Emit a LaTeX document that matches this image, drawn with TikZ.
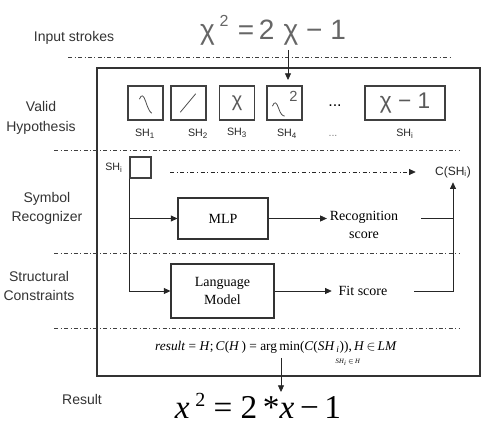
\documentclass[tikz,border=0pt]{standalone}
\usepackage{fontspec}
\setmainfont{Liberation Serif}
\setsansfont{Liberation Sans}
\usetikzlibrary{positioning,arrows.meta,calc}
\tikzset{
  lbl/.style={font=\sffamily\fontsize{10.5}{14.5}\selectfont,align=center,text=black!80},
  hyp/.style={rectangle,draw=black!75,thick,minimum width=26.25pt,minimum height=25.5pt,inner sep=0pt},
  shlbl/.style={font=\sffamily\fontsize{8}{9}\selectfont,text=black!85},
  blk/.style={rectangle,draw=black!80,thick,align=center,font=\fontsize{10.5}{13}\selectfont},
  txt/.style={align=center,font=\fontsize{10.5}{13}\selectfont,inner sep=2pt},
  sepline/.style={dash dot,black!75},
  hand/.style={black!70,line width=0.6pt,line cap=round},
  flow/.style={-{Triangle[length=5pt,width=4.5pt]},black!85,line width=0.6pt},
}

\begin{document}
\begin{tikzpicture}[x=0.75pt,y=-0.75pt]
  \useasboundingbox (0,0) rectangle (492,425);

  % input strokes
  \node[lbl] (inlbl) at (74,38) {Input strokes};
  \node[font=\sffamily\fontsize{21}{24}\selectfont,text=black!60] (strokes) at (273,30)
    {χ\,\raisebox{0.9ex}{\fontsize{12}{12}\selectfont 2}\,\,=\,2\,\,χ − 1};
  \draw[sepline] (68,57) -- (452,57);
  \draw[black!80,thick] (97,68) rectangle (480,376);
  \coordinate (hyptop) at (288,80);
  \draw[flow] (strokes.south -| hyptop) -- (hyptop);

  % valid hypotheses
  \node[lbl] (hyplbl) at (41,118) {Valid\\Hypothesis};
  \node[hyp] (hyp1) at (145.5,103) {};
  \node[hyp] (hyp2) at (188.5,103) {};
  \node[hyp] (hyp3) at (237,103) {\sffamily\fontsize{15}{15}\selectfont\color{black!65}χ};
  \node[hyp] (hyp4) at (284.5,103) {};
  \node[font=\sffamily\fontsize{12}{12}\selectfont] (hypdots) at (335,106) {...};
  \node[hyp,minimum width=60pt] (hypi) at (405,103) {\sffamily\fontsize{17}{17}\selectfont\color{black!65}χ − 1};
  \draw[hand] ($(hyp1.center)+(-6,-4)$) .. controls ($(hyp1.center)+(-4,-9)$) and ($(hyp1.center)+(-2,-8)$) .. ($(hyp1.center)+(0,-2)$)
    .. controls ($(hyp1.center)+(2,4)$) and ($(hyp1.center)+(4,9)$) .. ($(hyp1.center)+(6,10)$);
  \draw[hand] ($(hyp2.center)+(-8,9)$) -- ($(hyp2.center)+(7,-9)$);
  \draw[hand] ($(hyp4.center)+(-12,3)$) .. controls ($(hyp4.center)+(-10,-2)$) and ($(hyp4.center)+(-8,-1)$) .. ($(hyp4.center)+(-6,5)$)
    .. controls ($(hyp4.center)+(-4,11)$) and ($(hyp4.center)+(-2,13)$) .. ($(hyp4.center)+(0,13)$);
  \node[font=\sffamily\fontsize{11}{11}\selectfont,text=black!65] (hyp4sup) at ($(hyp4.center)+(9,-7)$) {2};
  \node[shlbl] (sh1) at (145,134) {SH\textsubscript{1}};
  \node[shlbl] (sh2) at (198,134) {SH\textsubscript{2}};
  \node[shlbl] (sh3) at (237,133) {SH\textsubscript{3}};
  \node[shlbl] (sh4) at (287,134) {SH\textsubscript{4}};
  \node[shlbl,text=black!50] (shdots) at (333,136) {...};
  \node[shlbl] (shi) at (405,134) {SH\textsubscript{i}};
  \draw[sepline] (54,150) -- (460,150);

  % symbol recognizer
  \node[lbl] (reclbl) at (47,208.5) {Symbol\\Recognizer};
  \node[shlbl] (celllbl) at (114,168) {SH\textsubscript{i}};
  \node[hyp,minimum width=15.75pt,minimum height=15.75pt] (cell) at (140.5,167.5) {};
  \node[shlbl,font=\sffamily\fontsize{9}{10}\selectfont] (csh) at (453,172) {C(SH\textsubscript{i})};
  \draw[flow,dash dot,shorten <=14pt,shorten >=11pt] (cell.east |- csh) -- (csh.west);
  \node[blk,minimum width=67.5pt,minimum height=30.75pt] (mlp) at (223,218.5) {MLP};
  \node[txt] (recog) at (364,225) {Recognition\\score};
  \draw[flow] (cell.south west) |- (mlp.west);
  \draw[flow] (mlp.east) -- (mlp.east -| recog.west);
  \draw[black!85,line width=0.6pt,shorten <=15pt] (recog.east |- mlp) -- (mlp -| csh.south);
  \draw[sepline] (54,253) -- (460,253);

  % structural constraints
  \node[lbl] (strlbl) at (39,286) {Structural\\Constraints};
  \node[blk,minimum width=77.25pt,minimum height=40.5pt] (lm) at (222.5,291) {Language\\Model};
  \node[txt] (fit) at (363,291) {Fit score};
  \draw[flow] (cell.south west) |- (lm.west);
  \draw[flow,shorten >=3pt] (lm.east) -- (fit.west);
  \draw[flow,shorten <=18pt] (fit.east |- lm) -| (csh.south);
  \draw[sepline] (54,328) -- (460,328);

  % result
  \node[font=\fontsize{10}{12}\selectfont] (formula) at (276,347)
    {\textit{result} = \textit{H};\,\textit{C}(\textit{H}\,) = arg\,min(\textit{C}(\textit{SH}\textsubscript{\,\textit{i}})),\,\textit{H}\,$\in$\,\textit{LM}};
  \node[font=\fontsize{5}{6}\selectfont] (formsub) at (348,362) {\textit{SH}\textsubscript{\textit{i}}\,$\in$\,\textit{H}};
  \node[lbl] (reslbl) at (82,399) {Result};
  \node[font=\fontsize{25}{28}\selectfont] (final) at (258,406) {\textit{x}\,\raisebox{0.75ex}{\fontsize{15}{15}\selectfont 2} = 2\,*\textit{x}\,−\,1};
  \coordinate (resarrow) at (281,392);
  \draw[flow] (formula.south -| resarrow) -- (resarrow);
\end{tikzpicture}
\end{document}
